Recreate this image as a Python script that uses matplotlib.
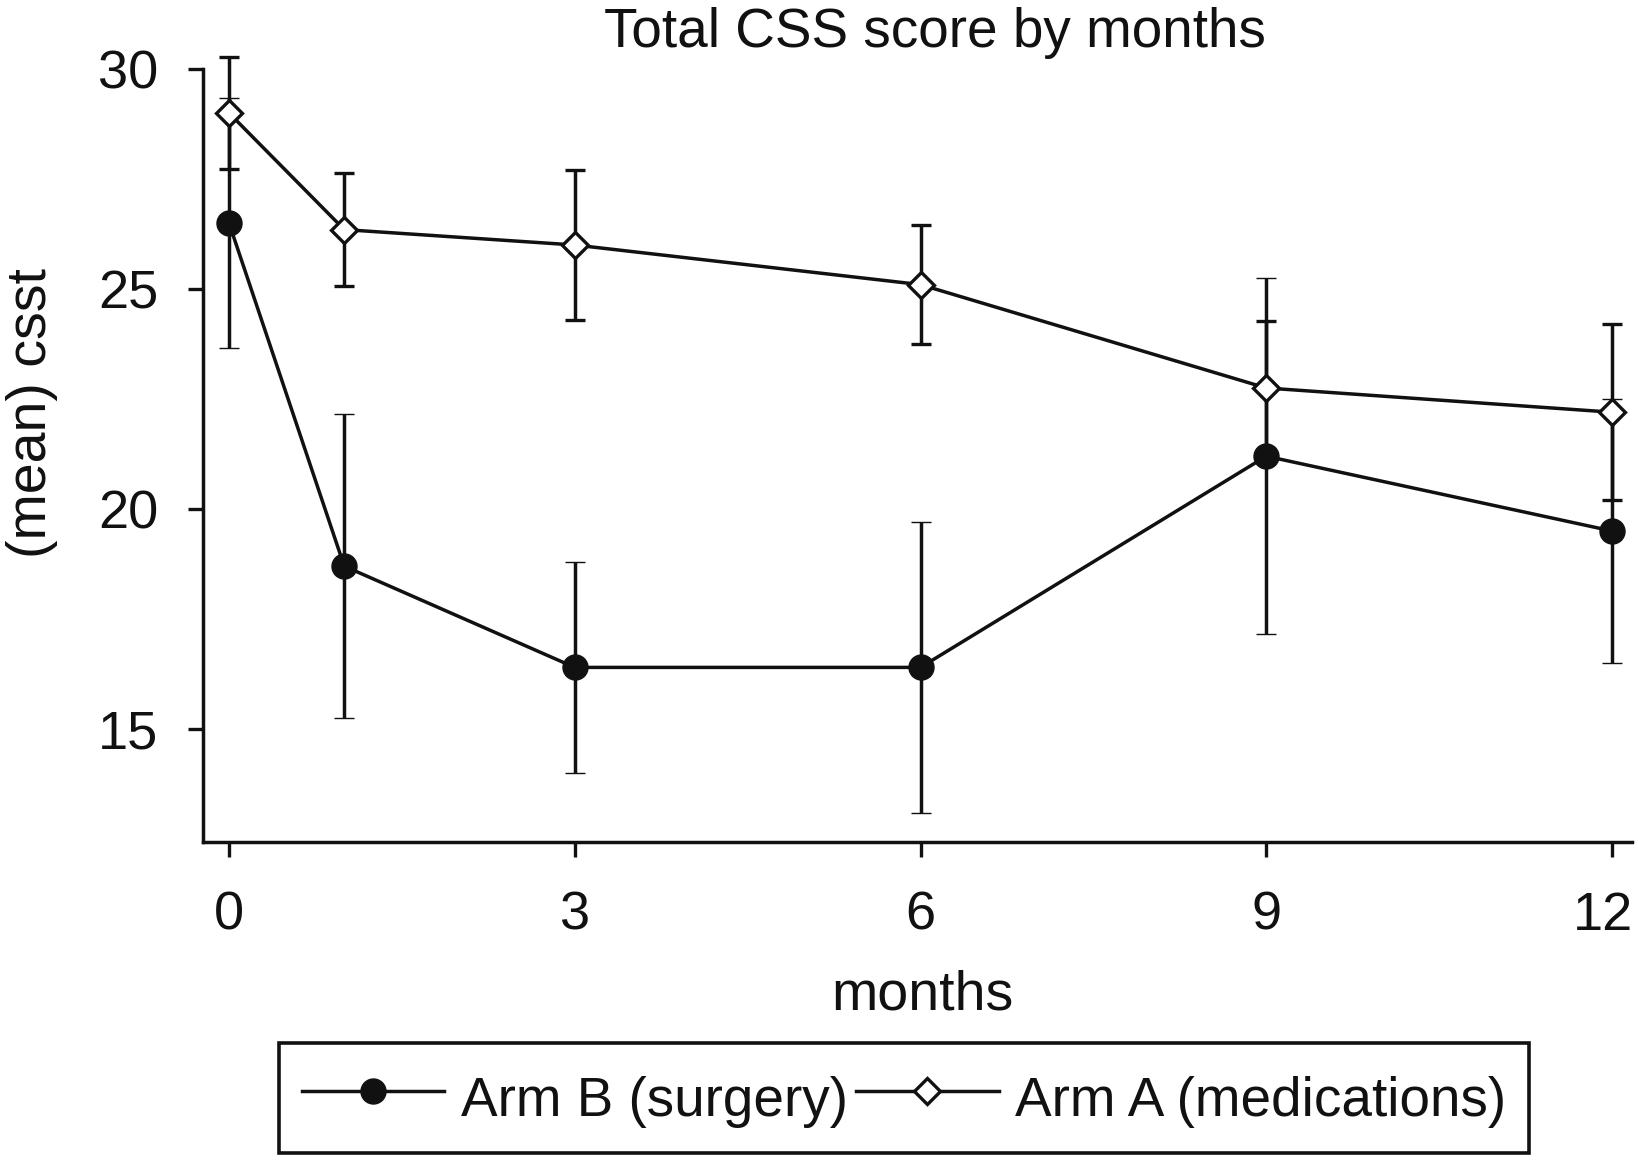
import matplotlib
matplotlib.use("Agg")
import matplotlib.pyplot as plt
from matplotlib.lines import Line2D
from matplotlib.transforms import ScaledTranslation

plt.rcParams['font.family'] = ['Liberation Sans', 'DejaVu Sans']

# Data
months = [0, 1, 3, 6, 9, 12]
arm_b_mean = [26.5, 18.7, 16.4, 16.4, 21.2, 19.5]
arm_b_err = [2.85, 3.45, 2.4, 3.3, 4.05, 3.0]
arm_a_mean = [29.0, 26.35, 26.0, 25.1, 22.75, 22.2]
arm_a_err = [1.28, 1.28, 1.7, 1.35, 1.52, 2.0]
xticks = [0, 3, 6, 9, 12]
yticks = [15, 20, 25, 30]
label_b = "Arm B (surgery)"
label_a = "Arm A (medications)"

W, H = 1638, 1163
fig = plt.figure(figsize=(W / 100, H / 100), dpi=100)

# axes placement (pixels)
ax_left, ax_right = 203, 1632
ax_top, ax_bottom = 40, 842
ax = fig.add_axes([ax_left / W, 1 - ax_bottom / H,
                   (ax_right - ax_left) / W, (ax_bottom - ax_top) / H])

px_per_month = (1612 - 229) / 12
px_per_unit = (729 - 69) / 15
xmin = (ax_left - 229) / px_per_month
xmax = (ax_right - 229) / px_per_month
ymin = 30 - (ax_bottom - 69) / px_per_unit
ymax = 30 + (69 - ax_top) / px_per_unit
ax.set_xlim(xmin, xmax)
ax.set_ylim(ymin, ymax)

ink = '#111111'
lw = 2.5
ax.errorbar(months, arm_b_mean, yerr=arm_b_err, fmt='-o', color=ink,
            lw=lw, elinewidth=lw, capsize=7.5, capthick=lw,
            markersize=18, markerfacecolor=ink, markeredgecolor=ink,
            markeredgewidth=1, zorder=3, clip_on=False)
ax.errorbar(months, arm_a_mean, yerr=arm_a_err, fmt='-D', color=ink,
            lw=lw, elinewidth=lw, capsize=7.5, capthick=lw,
            markersize=13.5, markerfacecolor='white', markeredgecolor=ink,
            markeredgewidth=2.4, zorder=4, clip_on=False)

for s in ['top', 'right']:
    ax.spines[s].set_visible(False)
for s in ['left', 'bottom']:
    ax.spines[s].set_linewidth(2.5)
    ax.spines[s].set_color(ink)
ax.spines['left'].set_bounds(ymin, 30)

ax.set_xticks(xticks)
ax.set_xticklabels([str(t) for t in xticks])
ax.set_yticks(yticks)
ax.set_yticklabels([str(t) for t in yticks])
ax.tick_params(axis='both', direction='out', length=11, width=2.4,
               color=ink, labelsize=39, labelcolor=ink)
ax.tick_params(axis='y', pad=21)
ax.tick_params(axis='x', pad=24)

# keep the last x tick label inside the canvas
last = ax.get_xticklabels()[-1]
last.set_transform(last.get_transform() + ScaledTranslation(-9 / 100, 0, fig.dpi_scale_trans))

fig.text(935 / W, 1 - 33 / H, "Total CSS score by months", ha='center', va='center',
         fontsize=39.5, color=ink)
fig.text(922 / W, 1 - 995 / H, "months", ha='center', va='center',
         fontsize=40, color=ink)
fig.text(32 / W, 1 - 413 / H, "(mean) csst", ha='center', va='center',
         rotation=90, fontsize=40, color=ink)

h_b = Line2D([], [], color=ink, lw=lw, marker='o', markersize=18,
             markerfacecolor=ink, markeredgecolor=ink, markeredgewidth=1)
h_a = Line2D([], [], color=ink, lw=lw, marker='D', markersize=13.5,
             markerfacecolor='white', markeredgecolor=ink, markeredgewidth=2.4)
leg = fig.legend([h_b, h_a], [label_b, label_a], loc='center',
                 bbox_to_anchor=(904 / W, 1 - 1098 / H), ncol=2, fontsize=39.5,
                 frameon=True, fancybox=False, edgecolor=ink, framealpha=1,
                 handlelength=2.6, handleheight=1.4, handletextpad=0.3,
                 columnspacing=0.15, borderpad=0.42, borderaxespad=0, numpoints=1)
leg.get_frame().set_linewidth(2.6)
for t in leg.get_texts():
    t.set_color(ink)

fig.savefig("out.png", dpi=100, facecolor='white')
